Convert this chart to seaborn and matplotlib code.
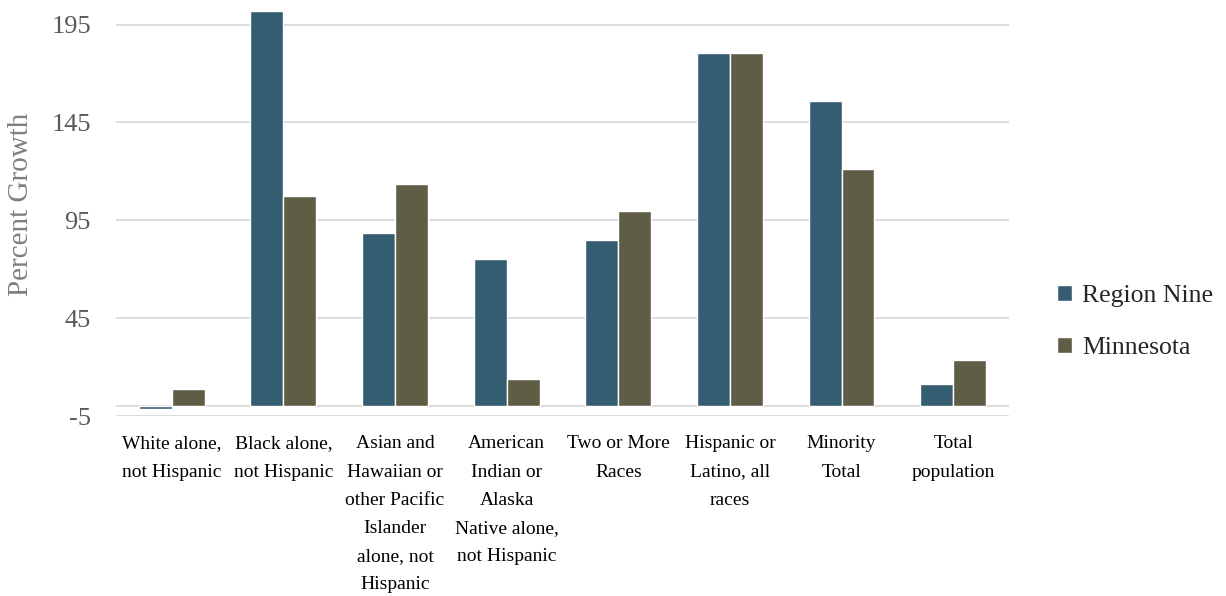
import matplotlib
matplotlib.use("Agg")
import matplotlib.pyplot as plt
import seaborn as sns
import pandas as pd

categories = [
    "White alone,\nnot Hispanic",
    "Black alone,\nnot Hispanic",
    "Asian and\nHawaiian or\nother Pacific\nIslander\nalone, not\nHispanic",
    "American\nIndian or\nAlaska\nNative alone,\nnot Hispanic",
    "Two or More\nRaces",
    "Hispanic or\nLatino, all\nraces",
    "Minority\nTotal",
    "Total\npopulation",
]
region_nine = [-1.5, 202, 88.5, 75, 85, 180.5, 156, 11.2]
minnesota = [9.0, 107.5, 113.5, 13.7, 99.7, 180.5, 121.2, 23.6]
series_names = ["Region Nine", "Minnesota"]
yticks = [-5, 45, 95, 145, 195]

df = pd.DataFrame({
    "category": categories * 2,
    "value": region_nine + minnesota,
    "series": [series_names[0]] * len(categories) + [series_names[1]] * len(categories),
})

sns.set_theme(style="white")
plt.rcParams["font.family"] = ["Liberation Serif", "DejaVu Serif"]

fig = plt.figure(figsize=(12.26, 5.96), dpi=100)
ax = fig.add_axes([0.0946, 0.302, 0.7284, 0.6896])

palette = {"Region Nine": "#355D72", "Minnesota": "#5F5D46"}
sns.barplot(data=df, x="category", y="value", hue="series", palette=palette,
            width=0.59, saturation=1, ax=ax, legend=True, errorbar=None)

ax.set_xlim(-0.5, len(categories) - 0.5)
ax.set_ylim(-5, 205)
ax.set_yticks(yticks)
ax.set_yticklabels([str(t) for t in yticks], fontsize=19, color="#595959")
ax.yaxis.grid(True, color="#D9D9D9", linewidth=1.3)
ax.set_axisbelow(True)
ax.axhline(0, color="#D9D9D9", linewidth=1.3, zorder=0.5)
ax.tick_params(axis="both", length=0)
ax.tick_params(axis="y", pad=18)
ax.tick_params(axis="x", pad=14)
ax.set_xticks(range(len(categories)))
ax.set_xticklabels(categories, fontsize=14, color="#000000", linespacing=1.85,
                   va="top")
ax.set_xlabel("")
ax.set_ylabel("Percent Growth", fontsize=21, color="#7F7F7F")
ax.yaxis.set_label_coords(-0.092, 0.515)
for s in ax.spines.values():
    s.set_visible(False)

leg = ax.legend(loc="center left", bbox_to_anchor=(0.843, 0.46),
                bbox_transform=fig.transFigure, frameon=False,
                fontsize=18.5, handlelength=0.58, handleheight=0.58,
                handletextpad=0.42, labelspacing=1.15)

fig.savefig("out.png", dpi=100)
